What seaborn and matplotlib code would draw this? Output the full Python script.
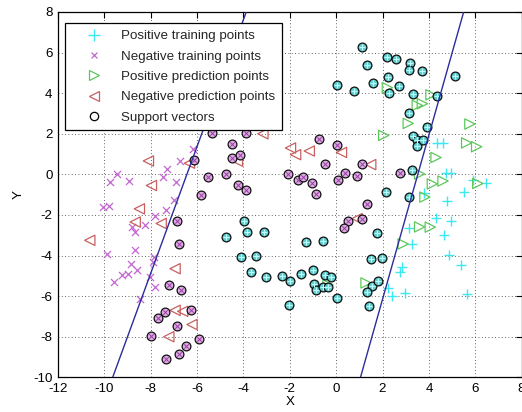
import matplotlib
matplotlib.use("Agg")
import matplotlib.pyplot as plt
from matplotlib.lines import Line2D
import seaborn as sns

# ---------------- data ----------------
pos_train_x = [4.35, 4.6, 4.72, 4.96, 5.9, 6.47, 5.52, 4.79, 3.78, 4.32, 4.94, 4.65, 3.13, 3.28,
               4.85, 5.4, 2.83, 2.75, 2.22, 2.41, 2.98, 5.63]
pos_train_y = [1.53, 1.53, 0.09, 0.09, -0.28, -0.45, -0.86, -1.33, -0.94, -2.17, -2.3, -3.0, -2.64, -3.45,
               -3.99, -4.46, -4.58, -4.82, -5.59, -6.0, -5.86, -5.92]

neg_train_x = [-9.77, -9.45, -8.94, -7.48, -7.30, -6.89, -6.75, -6.19, -6.98, -10.05, -9.78, -7.33, -7.83,
               -8.23, -8.81, -8.69, -9.9, -8.68, -7.86, -7.92, -8.85, -8.61, -8.98, -9.24, -9.6, -8.01,
               -7.8, -8.46]
neg_train_y = [-0.40, 0.00, -0.35, -0.14, 0.27, -0.37, 0.67, 1.23, -1.27, -1.62, -1.55, -1.77, -2.05,
               -2.48, -2.57, -2.83, -3.93, -3.75, -4.07, -4.33, -4.44, -4.69, -4.93, -4.98, -5.3, -5.05,
               -5.57, -6.12]

pos_pred_x = [2.21, 3.5, 3.72, 4.09, 3.11, 2.05, 5.77, 5.63, 6.06, 4.31, 4.15, 4.61, 6.11, 3.83, 3.6,
              4.06, 2.89, 1.29, 3.6, -0.35]
pos_pred_y = [4.27, 3.4, 3.48, 3.92, 2.51, 1.92, 2.48, 1.55, 1.36, 0.83, -0.47, -0.33, -0.45, -1.12, -2.59,
              -2.6, -3.43, -5.35, 0.02, -5.45]

neg_pred_x = [-8.1, -7.97, -8.49, -8.67, -7.55, -10.63, -6.95, -6.95, -6.62, -6.22, -7.22, -3.16, -4.26,
              -1.97, -1.75, -1.16, 0.23, 1.49, 0.9, -6.33]
neg_pred_y = [0.66, -0.55, -1.7, -2.35, -2.42, -3.25, -4.65, -6.7, -6.75, -7.4, -8.0, 2.0, 0.65,
              1.3, 0.97, 1.15, 1.08, 0.48, -2.18, 0.55]

pos_sv_x = [1.10, 1.33, 2.2, 2.58, 3.18, 3.13, 3.71, 5.11, 0.04, 0.78, 1.61, 2.24, 2.73, 2.29, 3.31, 4.33,
            3.15, 3.92, 3.3, 3.5, 3.5, 3.76, 3.26, 2.16, 3.15, 1.77, -1.32, -0.56, 1.51, 1.98, -3.03,
            -2.33, -1.97, -1.5, -1.01, -0.97, -0.86, -0.47, -0.21, -0.58, -0.34, 0.04, -2.05, 1.56,
            1.32, 1.8, 1.42, -3.98, -4.76, -3.86, -3.12, -4.12, -3.46, -3.69]
pos_sv_y = [6.29, 5.41, 5.78, 5.67, 5.47, 5.14, 5.1, 4.85, 4.4, 4.13, 4.51, 4.81, 4.35, 4.03, 3.97, 3.86,
            3.04, 2.31, 1.87, 1.7, 1.42, 1.7, 0.22, -0.88, -1.13, -2.88, -3.34, -3.3, -4.15, -4.13, -5.07,
            -4.99, -5.25, -4.9, -4.7, -5.42, -5.72, -4.97, -5.05, -5.53, -5.55, -6.07, -6.46, -5.49,
            -5.78, -5.25, -6.49, -2.3, -3.1, -2.83, -2.84, -4.09, -4.01, -4.83]

neg_sv_x = [-5.37, -4.48, -3.89, -4.49, -4.15, -6.15, -5.51, -4.76, -4.22, -3.9, -5.82, -6.85, -6.79,
            -7.19, -6.69, -7.7, -7.38, -6.26, -6.86, -7.99, -5.91, -6.48, -6.76, -7.35, -0.75, 0.05,
            -0.5, -2.08, -1.64, -1.44, -1.05, -0.85, 0.09, 0.36, 0.9, 1.1, 2.74, 1.33, 0.51, 0.32, 1.1]
neg_sv_y = [2.03, 1.5, 2.06, 0.83, 0.97, 0.7, -0.13, 0.03, -0.53, -0.78, -1.04, -2.32, -3.45,
            -5.46, -5.71, -7.1, -6.8, -6.69, -7.45, -7.97, -8.11, -8.47, -8.83, -9.12, 1.72, 1.47,
            0.52, 0.03, -0.27, -0.14, -0.43, -0.95, -0.27, 0.08, -0.06, 0.52, 0.09, -1.47, -2.29, -2.62, -2.2]

left_line_x = [-9.64, -3.88]
left_line_y = [-10, 8]
right_line_x = [1.05, 5.5]
right_line_y = [-10, 8]

legend_labels = ["Positive training points", "Negative training points",
                 "Positive prediction points", "Negative prediction points", "Support vectors"]
x_ticks = [-12, -10, -8, -6, -4, -2, 0, 2, 4, 6, 8]
y_ticks = [-10, -8, -6, -4, -2, 0, 2, 4, 6, 8]

# ---------------- style ----------------
CYAN = "#3ee8f2"
MAG = "#c466d2"
GREEN = "#5cc85c"
RED = "#c86060"
TEAL_FILL = "#62cccc"
CYAN_IN = "#b8ffff"
PURP_FILL = "#dcaee0"
PURP_IN = "#9a3aa8"
NAVY = "#2c2c9c"

sns.set_theme(style="white")
plt.rcParams['font.family'] = ['Liberation Sans', 'DejaVu Sans']
FS = 9.6

fig = plt.figure(figsize=(5.22, 4.12), dpi=100)
fig.patch.set_facecolor("white")
ax = fig.add_axes([58 / 522, 34.7 / 412, 463.6 / 522, 365.3 / 412])
ax.set_facecolor("white")

# training points
sns.scatterplot(x=pos_train_x, y=pos_train_y, marker="+", s=55, color=CYAN, linewidth=1.0, ax=ax, legend=False)
sns.scatterplot(x=neg_train_x, y=neg_train_y, marker="x", s=26, color=MAG, linewidth=0.9, ax=ax, legend=False)
# predictions
sns.scatterplot(x=pos_pred_x, y=pos_pred_y, marker=">", s=55, color=GREEN, facecolor="none",
                edgecolor=GREEN, linewidth=0.9, ax=ax, legend=False)
sns.scatterplot(x=neg_pred_x, y=neg_pred_y, marker="<", s=55, color=RED, facecolor="none",
                edgecolor=RED, linewidth=0.9, ax=ax, legend=False)
# support vectors
sns.scatterplot(x=pos_sv_x, y=pos_sv_y, marker="o", s=40, color=TEAL_FILL, facecolor=TEAL_FILL,
                edgecolor="#101010", linewidth=0.9, ax=ax, legend=False, zorder=3)
sns.scatterplot(x=pos_sv_x, y=pos_sv_y, marker="+", s=16, color=CYAN_IN, linewidth=0.8, ax=ax,
                legend=False, zorder=4)
sns.scatterplot(x=neg_sv_x, y=neg_sv_y, marker="o", s=40, color=PURP_FILL, facecolor=PURP_FILL,
                edgecolor="#101010", linewidth=0.9, ax=ax, legend=False, zorder=3)
sns.scatterplot(x=neg_sv_x, y=neg_sv_y, marker="x", s=10, color=PURP_IN, linewidth=0.7, ax=ax,
                legend=False, zorder=4)

# separating lines
sns.lineplot(x=left_line_x, y=left_line_y, color=NAVY, linewidth=1.0, sort=False, estimator=None, ax=ax, zorder=5)
sns.lineplot(x=right_line_x, y=right_line_y, color=NAVY, linewidth=1.0, sort=False, estimator=None, ax=ax, zorder=5)

ax.set_xlim(-12, 8)
ax.set_ylim(-10, 8)
ax.set_xticks(x_ticks)
ax.set_yticks(y_ticks)
ax.set_xticklabels([str(v) for v in x_ticks])
ax.set_yticklabels([str(v) for v in y_ticks])
ax.grid(True, linestyle=(0, (1, 3)), color="#303030", linewidth=0.6)
ax.set_axisbelow(True)
ax.tick_params(direction="in", top=True, right=True, length=4, width=0.8, colors="black",
               labelsize=FS, pad=4)
for sp in ax.spines.values():
    sp.set_visible(True)
    sp.set_color("black")
    sp.set_linewidth(0.9)

ax.set_xlabel("X", fontsize=FS, color="black", labelpad=1)
ax.set_ylabel("Y", fontsize=FS, color="black", labelpad=6)

handles = [
    Line2D([], [], ls="none", marker="+", color=CYAN, markersize=8, mew=1.0),
    Line2D([], [], ls="none", marker="x", color=MAG, markersize=5, mew=0.9),
    Line2D([], [], ls="none", marker=">", mfc="none", mec=GREEN, markersize=7, mew=0.9),
    Line2D([], [], ls="none", marker="<", mfc="none", mec=RED, markersize=7, mew=0.9),
    Line2D([], [], ls="none", marker="o", mfc="none", mec="black", markersize=6, mew=0.9),
]
leg = ax.legend(handles, legend_labels, loc="upper left",
                bbox_to_anchor=(7 / 463.6, 1 - 11.3 / 365.3), borderaxespad=0,
                frameon=True, fancybox=False, framealpha=1, edgecolor="black",
                fontsize=FS, handlelength=3.4, handletextpad=0.3, borderpad=0.5,
                labelspacing=0.6)
leg.get_frame().set_linewidth(0.9)
leg.set_zorder(10)

fig.savefig("out.png", dpi=100, facecolor="white")
